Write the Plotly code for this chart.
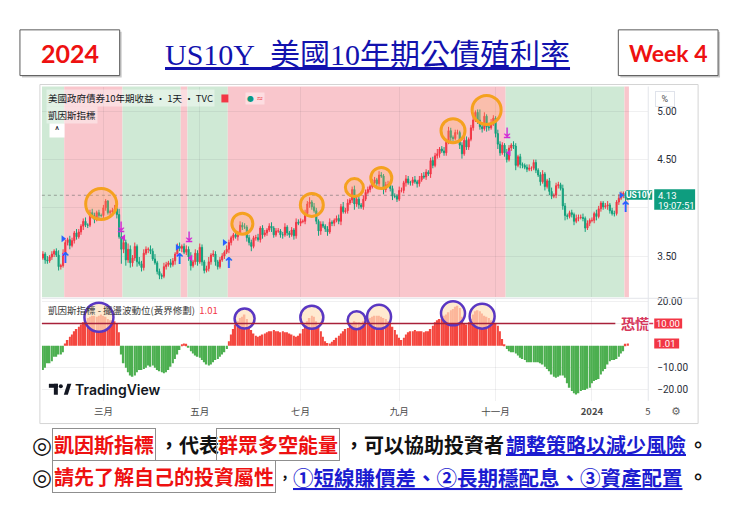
import pandas as pd
import plotly.graph_objects as go

W, H = 740, 523

# ---------------------------------------------------------------- data
# US 10-year Treasury yield (%), daily closes, one value per weekday
# from 23 Jan 2023 to 23 Jan 2024 (rows hold five weeks each)
closes = [
    3.52, 3.46, 3.45, 3.49, 3.52, 3.55, 3.51, 3.39, 3.40, 3.53, 3.64, 3.67, 3.61, 3.66, 3.74, 3.70, 3.75, 3.81, 3.86, 3.82, 3.82, 3.95, 3.92, 3.88, 3.95,
    3.92, 3.92, 4.00, 4.07, 3.95, 3.96, 3.97, 3.99, 3.93, 3.70, 3.57, 3.64, 3.46, 3.57, 3.43, 3.48, 3.60, 3.44, 3.42, 3.38, 3.53, 3.57, 3.57, 3.55, 3.47,
    3.43, 3.34, 3.30, 3.29, 3.39, 3.41, 3.43, 3.41, 3.45, 3.52, 3.60, 3.58, 3.60, 3.54, 3.57, 3.49, 3.40, 3.44, 3.53, 3.44, 3.59, 3.44, 3.35, 3.37, 3.44,
    3.51, 3.52, 3.44, 3.39, 3.46, 3.50, 3.54, 3.57, 3.64, 3.69, 3.72, 3.70, 3.74, 3.82, 3.80, 3.80, 3.69, 3.64, 3.60, 3.69, 3.69, 3.67, 3.79, 3.72, 3.74,
    3.77, 3.81, 3.79, 3.72, 3.76, 3.76, 3.72, 3.72, 3.80, 3.74, 3.72, 3.77, 3.71, 3.85, 3.84, 3.86, 3.86, 3.94, 4.04, 4.06, 4.01, 3.97, 3.86, 3.76, 3.83,
    3.81, 3.78, 3.75, 3.85, 3.84, 3.87, 3.89, 3.86, 4.01, 3.96, 3.97, 4.05, 4.08, 4.19, 4.04, 4.09, 4.03, 4.01, 4.09, 4.16, 4.19, 4.22, 4.26, 4.29, 4.25,
    4.34, 4.33, 4.19, 4.24, 4.24, 4.20, 4.12, 4.12, 4.09, 4.18, 4.18, 4.26, 4.30, 4.26, 4.26, 4.29, 4.27, 4.25, 4.29, 4.33, 4.32, 4.37, 4.35, 4.49, 4.44,
    4.54, 4.56, 4.61, 4.59, 4.57, 4.68, 4.80, 4.73, 4.72, 4.78, 4.78, 4.65, 4.56, 4.70, 4.63, 4.71, 4.83, 4.91, 4.99, 4.91, 4.84, 4.82, 4.95, 4.84, 4.83,
    4.88, 4.93, 4.77, 4.66, 4.57, 4.65, 4.57, 4.50, 4.62, 4.65, 4.64, 4.44, 4.53, 4.45, 4.44, 4.42, 4.40, 4.41, 4.41, 4.47, 4.39, 4.34, 4.27, 4.35, 4.22,
    4.28, 4.17, 4.12, 4.13, 4.23, 4.24, 4.20, 4.02, 3.92, 3.91, 3.95, 3.93, 3.86, 3.89, 3.90, 3.90, 3.89, 3.79, 3.84, 3.87, 3.87, 3.94, 3.91, 3.99, 4.05,
    4.01, 4.02, 4.03, 3.97, 3.94, 3.94, 4.06, 4.10, 4.14, 4.15, 4.10, 4.13,
]
prev_close = 3.48  # close of the session before the first bar

# intraday extension above / below the candle body, in basis points
wick_up_bp = [
    3, 2, 4, 2, 3, 2, 3, 5, 2, 4, 3, 2, 4, 3, 2, 4, 3, 2, 3, 4, 2, 3, 4, 3, 2,
    3, 2, 3, 2, 1, 2, 3, 4, 2, 6, 5, 4, 3, 6, 4, 3, 4, 2, 5, 3, 4, 3, 2, 4, 3,
    5, 2, 3, 2, 4, 3, 2, 4, 3, 2, 3, 4, 2, 3, 4, 3, 5, 2, 4, 3, 4, 3, 2, 3, 5,
    2, 4, 3, 2, 3, 3, 2, 4, 3, 2, 2, 3, 2, 4, 3, 4, 2, 3, 3, 2, 3, 4, 2, 3, 3,
    2, 3, 4, 2, 3, 3, 2, 3, 4, 2, 2, 3, 2, 4, 3, 3, 2, 4, 3, 5, 2, 4, 3, 2, 3,
    3, 2, 3, 4, 2, 2, 3, 4, 3, 5, 3, 4, 2, 3, 4, 4, 3, 2, 4, 3, 3, 2, 4, 3, 2,
    4, 3, 2, 3, 4, 2, 3, 3, 2, 4, 3, 2, 4, 3, 2, 3, 4, 2, 4, 3, 4, 3, 2, 3, 4,
    3, 5, 2, 3, 4, 2, 4, 3, 2, 3, 3, 2, 3, 5, 4, 2, 3, 4, 2, 3, 11, 3, 4, 2, 3,
    4, 3, 2, 4, 3, 3, 2, 4, 3, 2, 4, 3, 2, 3, 2, 2, 3, 4, 2, 3, 3, 2, 3, 4, 2,
    2, 3, 4, 2, 3, 3, 2, 4, 3, 2, 2, 3, 2, 4, 3, 3, 4, 2, 3, 2, 3, 2, 4, 3, 2,
    2, 3, 4, 2, 3, 3, 2, 4, 3, 2, 2, 3,
]
wick_dn_bp = [
    2, 4, 3, 2, 3, 3, 2, 4, 3, 2, 2, 3, 4, 2, 3, 3, 2, 3, 4, 2, 3, 2, 3, 4, 2,
    3, 2, 4, 3, 2, 3, 2, 3, 4, 2, 15, 4, 6, 3, 5, 4, 3, 5, 2, 4, 3, 2, 4, 3, 2,
    2, 3, 4, 3, 2, 3, 2, 3, 2, 4, 2, 3, 4, 2, 3, 4, 5, 2, 3, 4, 2, 4, 3, 2, 3,
    3, 2, 4, 3, 2, 2, 3, 2, 4, 3, 3, 2, 4, 2, 3, 2, 4, 3, 5, 2, 3, 2, 3, 4, 2,
    3, 2, 4, 3, 2, 2, 3, 4, 2, 3, 3, 2, 4, 3, 2, 3, 2, 3, 2, 4, 3, 2, 3, 5, 4,
    2, 3, 4, 2, 3, 3, 2, 3, 4, 2, 2, 3, 2, 3, 6, 3, 4, 2, 3, 2, 2, 3, 2, 4, 3,
    3, 2, 5, 3, 2, 3, 4, 2, 3, 2, 2, 3, 4, 2, 3, 3, 2, 4, 3, 2, 2, 3, 2, 4, 3,
    2, 3, 4, 2, 3, 3, 2, 4, 3, 2, 2, 4, 5, 2, 3, 3, 2, 3, 2, 4, 3, 4, 2, 5, 3,
    2, 3, 4, 5, 3, 2, 4, 3, 2, 3, 3, 5, 2, 4, 3, 2, 3, 2, 3, 2, 3, 2, 4, 2, 4,
    2, 4, 3, 2, 3, 3, 2, 4, 5, 3, 2, 3, 4, 2, 3, 2, 3, 4, 2, 3, 2, 3, 4, 2, 3,
    3, 2, 4, 3, 2, 3, 2, 3, 2, 4, 3, 2,
]

# Keynes oscillator (swing energy), one value per bar
osc = [
    -11, -10, -8, -8, -7, -5, -5, -4, -4, -3, 1, 2.5, 4, 5, 6.5, 7.5, 8.5, 9.5, 10.5, 11.5, 12.5, 13, 13.5, 13.5, 13,
    13.5, 14, 13.5, 13, 12, 11.5, 11.5, 11, 10, 6, -4, -8, -10, -12, -13.5, -14, -13.5, -12, -11, -11, -10.5, -10, -9, -9.5, -9,
    -10, -11, -11.5, -12, -12.5, -12, -11, -9.5, -8, -6, -4, -2, 0.5, 1, 0.8, -1, -2.5, -3.5, -4.5, -5, -5.5, -6.5, -7.5, -8.5, -9,
    -8.5, -7.5, -6.5, -6, -5, -4, -3, -1.5, 2, 5, 7.5, 9.5, 11, 12.5, 13, 14, 12, 9, 7, 5.5, 4.5, 4, 4.5, 5, 5.5,
    6, 6.5, 6.5, 7, 6.5, 6.5, 6, 6.5, 6, 6, 5.5, 5, 4.5, 4, 4.5, 5.5, 7.5, 9.5, 11, 12.5, 13.5, 13, 11, 9, 6.5,
    4, 2, 1.2, 1, 1.8, 2.5, 3.5, 4.5, 5.5, 6.5, 7.5, 8, 9, 10, 11, 10.5, 10.5, 10, 11, 11.5, 12, 12.5, 13, 13.5, 13.5,
    13.5, 13, 12.5, 12, 11, 10, 8.5, 7, 5, 3.5, 2.5, 3.5, 5, 6, 6.5, 6.5, 7, 6.5, 6.5, 6.5, 6, 6.5, 6.5, 7.5, 9,
    10.5, 11.5, 12, 13, 13.5, 14, 15, 16, 16.5, 17.5, 18, 17, 13, 10, 9.5, 10.5, 12, 14, 15.5, 16, 15.5, 14.5, 13.5, 13, 12.5,
    11.5, 11, 10, 9, 6.5, 3, 0.5, -1.5, -2.5, -3, -3, -3.5, -4.5, -5.5, -6, -6.5, -7.5, -7.5, -7.5, -7.5, -7.5, -7.5, -8, -8.5, -9.5,
    -10.5, -11.5, -13, -14, -14.5, -14, -13.5, -13.5, -14.5, -17, -19, -20.5, -21.5, -22, -21.5, -20.5, -20, -20, -19.5, -19, -17, -16, -15.5, -15, -13,
    -11.5, -10.5, -8.5, -7, -6.5, -6.5, -6, -5, -3.5, -2.5, 0.8, 1.01,
]
assert len(closes) == len(wick_up_bp) == len(wick_dn_bp) == len(osc) == 262

last_price = 4.13
panic_level = 10
osc_last = 1.01

# background regime (bull = pink, bear = green) and the day it starts
regime_starts = ["2023-01-23", "2023-02-06", "2023-03-14", "2023-04-19",
                 "2023-04-24", "2023-05-18", "2023-11-08", "2024-01-22"]
regime_bull = [False, True, False, True, False, True, False, True]

# indicator signals
buy_flag_dates = ["2023-02-03", "2023-04-17", "2023-05-16", "2024-01-18"]
buy_flag_prices = [3.68, 3.59, 3.64, 4.13]
buy_arrow_dates = ["2023-02-06", "2023-04-18", "2023-05-18", "2024-01-22"]
buy_arrow_prices = [3.47, 3.46, 3.42, 4.00]
sell_bar_dates = ["2023-03-13", "2023-04-24", "2023-11-08"]
sell_bar_prices = [3.80, 3.69, 4.77]
sell_flag_dates = ["2023-03-14", "2023-04-25", "2023-11-09"]
sell_flag_prices = [3.69, 3.48, 4.57]

# highlighted swing highs
peak_dates = ["2023-02-28", "2023-05-26", "2023-07-10", "2023-08-04",
              "2023-08-22", "2023-10-05", "2023-10-26"]
peak_prices = [4.04, 3.835, 4.03, 4.21, 4.31, 4.80, 5.015]
peak_r = [15.5, 10.5, 11.5, 9, 10.5, 12, 14.5]
osc_peak_dates = ["2023-02-27", "2023-05-29", "2023-07-10", "2023-08-07",
                  "2023-08-21", "2023-10-05", "2023-10-24"]
osc_peak_values = [12.8, 12.2, 12.8, 11.5, 13.0, 14.6, 13.3]
osc_peak_r = [14.5, 10, 11.5, 9, 12, 12, 12.5]

tick_dates = ["2023-03-01", "2023-05-01", "2023-07-03", "2023-09-01",
              "2023-11-01", "2024-01-01", "2024-02-05"]
tick_text = ["三月", "五月", "七月", "九月", "十一月", "<b>2024</b>", "5"]

price_ticks = [3.5, 4.0, 4.5, 5.0]
price_tick_text = ["3.50", "", "4.50", "5.00"]
osc_ticks = [20, 10, -10, -20]
osc_tick_text = ["20.00", "", "\u221210.00", "\u221220.00"]

# ---------------------------------------------------------------- helpers
def px(x):
    return x / W


def py(y):
    return 1 - y / H


dates = pd.bdate_range("2023-01-23", periods=len(closes))
opens = [prev_close] + closes[:-1]
highs = [max(o, c) + u / 100 for o, c, u in zip(opens, closes, wick_up_bp)]
lows = [min(o, c) - d / 100 for o, c, d in zip(opens, closes, wick_dn_bp)]

UP, DN = "#f23645", "#14a07c"
POS, NEG = "#f4473f", "#4caf50"
PINK, MINT = "#f9c6cc", "#cfe9d5"
GRID = "rgba(42,46,57,0.07)"
CJK = "Noto Sans CJK TC"
UI = "Roboto, Noto Sans CJK TC, sans-serif"

x_start = pd.Timestamp("2023-01-20 13:00")
x_end = pd.Timestamp("2024-02-05 03:00")
X_DOM = [px(42), px(650)]

fig = go.Figure()

fig.add_trace(go.Candlestick(
    x=dates, open=opens, high=highs, low=lows, close=closes,
    increasing=dict(line=dict(color=UP, width=1), fillcolor=UP),
    decreasing=dict(line=dict(color=DN, width=1), fillcolor=DN),
    whiskerwidth=0, hoverinfo="skip", showlegend=False,
    xaxis="x", yaxis="y"))

fig.add_trace(go.Bar(
    x=dates, y=osc, marker=dict(color=[POS if v >= 0 else NEG for v in osc], line=dict(width=0)),
    hoverinfo="skip", showlegend=False, xaxis="x2", yaxis="y2"))

# signal marks
fig.add_trace(go.Scatter(x=buy_flag_dates, y=buy_flag_prices, mode="markers",
                         marker=dict(symbol="triangle-right", size=6, color="#2962ff"),
                         hoverinfo="skip", showlegend=False))
fig.add_trace(go.Scatter(x=buy_arrow_dates, y=buy_arrow_prices, mode="text", text=["↑"] * len(buy_arrow_dates),
                         textfont=dict(size=15, color="#2962ff", family="DejaVu Sans", weight=700),
                         hoverinfo="skip", showlegend=False))
fig.add_trace(go.Scatter(x=sell_bar_dates, y=sell_bar_prices, mode="text", text=["⤓"] * len(sell_bar_dates),
                         textfont=dict(size=14, color="#d42ad4", family="DejaVu Sans", weight=700),
                         hoverinfo="skip", showlegend=False))
fig.add_trace(go.Scatter(x=sell_flag_dates, y=sell_flag_prices, mode="markers",
                         marker=dict(symbol="triangle-left", size=6, color="#d42ad4"),
                         hoverinfo="skip", showlegend=False))

shapes = []
annotations = []

# regime background bands
bounds = []
for i, d in enumerate(regime_starts):
    pos = dates.get_loc(pd.Timestamp(d))
    bounds.append(x_start if pos == 0 else dates[pos - 1] + pd.Timedelta(hours=12))
bounds.append(dates[-1] + pd.Timedelta(hours=12))
for i, bull in enumerate(regime_bull):
    shapes.append(dict(type="rect", xref="x", yref="y domain", x0=bounds[i], x1=bounds[i + 1],
                       y0=0, y1=1, fillcolor=PINK if bull else MINT, line=dict(width=0), layer="below"))

# last price line
shapes.append(dict(type="line", xref="paper", yref="y", x0=px(42), x1=px(650), y0=last_price, y1=last_price,
                   line=dict(color="rgba(100,100,100,0.55)", width=1, dash="dot")))

# highlighted highs
for d, p, r in zip(peak_dates, peak_prices, peak_r):
    shapes.append(dict(type="circle", xref="x", yref="y", xsizemode="pixel", ysizemode="pixel",
                       xanchor=d, yanchor=p, x0=-r, x1=r, y0=-r, y1=r,
                       line=dict(color="#f5a11f", width=3), fillcolor="rgba(255,170,90,0.28)"))
for d, v, r in zip(osc_peak_dates, osc_peak_values, osc_peak_r):
    shapes.append(dict(type="circle", xref="x2", yref="y2", xsizemode="pixel", ysizemode="pixel",
                       xanchor=d, yanchor=v, x0=-r, x1=r, y0=-r, y1=r,
                       line=dict(color="#5a37c2", width=2.5), fillcolor="rgba(255,226,190,0.72)"))

# panic threshold
shapes.append(dict(type="line", xref="paper", yref="y2", x0=px(42), x1=px(617), y0=panic_level, y1=panic_level,
                   line=dict(color="#a8213a", width=1.6)))
shapes.append(dict(type="line", xref="paper", yref="y2", x0=px(651), x1=px(655), y0=panic_level, y1=panic_level,
                   line=dict(color="#d6365a", width=1.5)))
annotations.append(dict(xref="paper", yref="y2", x=px(621), y=panic_level, xanchor="left", yanchor="middle",
                        text="<b>恐慌</b>", showarrow=False, font=dict(family=CJK, size=14, color="#d6365a")))

# price-scale labels
shapes.append(dict(type="rect", xref="paper", yref="y", ysizemode="pixel", yanchor=last_price,
                   x0=px(628), x1=px(654), y0=-4.5, y1=5, fillcolor="#0e9d7f", line=dict(width=0)))
shapes.append(dict(type="rect", xref="paper", yref="y", ysizemode="pixel", yanchor=last_price,
                   x0=px(656), x1=px(697), y0=-14.5, y1=6, fillcolor="#0e9d7f", line=dict(width=0)))
annotations.append(dict(xref="paper", yref="y", x=px(641), y=last_price, xanchor="center", yanchor="middle",
                        text="<b>US10Y</b>", showarrow=False, font=dict(family=UI, size=8.5, color="white")))
annotations.append(dict(xref="paper", yref="y", x=px(658), y=last_price, xanchor="left", yanchor="middle",
                        text=f"{last_price:.2f}", showarrow=False, font=dict(family=UI, size=9.5, color="white")))
annotations.append(dict(xref="paper", yref="y", x=px(658), y=last_price, yshift=-10, xanchor="left", yanchor="middle",
                        text="19:07:51", showarrow=False, font=dict(family=UI, size=9.5, color="white")))
for val, txt, w in [(panic_level, f"{panic_level:.2f}", 28), (osc_last, f"{osc_last:.2f}", 25)]:
    shapes.append(dict(type="rect", xref="paper", yref="y2", ysizemode="pixel", yanchor=val,
                       x0=px(656), x1=px(656 + w), y0=-5, y1=5, fillcolor="#f23645", line=dict(width=0)))
    annotations.append(dict(xref="paper", yref="y2", x=px(656 + w / 2), y=val, xanchor="center", yanchor="middle",
                            text=txt, showarrow=False, font=dict(family=UI, size=9.5, color="white")))
annotations.append(dict(xref="paper", yref="paper", x=px(666.5), y=py(97), xanchor="center", yanchor="middle",
                        text="%", showarrow=False, bgcolor="white", bordercolor="#e0e3eb", borderwidth=1,
                        borderpad=2, width=14, font=dict(family=UI, size=9, color="#555")))

# chart frame and panel separators
shapes.append(dict(type="rect", xref="paper", yref="paper", x0=px(40), x1=px(700), y0=py(423), y1=py(82),
                   line=dict(color="#d4d4d4", width=1)))
shapes.append(dict(type="line", xref="paper", yref="paper", x0=px(650), x1=px(650), y0=py(400), y1=py(84),
                   line=dict(color="#e3e5ea", width=1)))
shapes.append(dict(type="line", xref="paper", yref="paper", x0=px(42), x1=px(700), y0=py(297), y1=py(297),
                   line=dict(color="#e3e5ea", width=1)))

# pane legends
annotations.append(dict(xref="paper", yref="paper", x=px(46), y=py(96), xanchor="left", yanchor="middle",
                        text="美國政府債券10年期收益 · 1天 · TVC", showarrow=False,
                        bgcolor="rgba(255,255,255,0.4)", font=dict(family=CJK, size=9.5, color="#131722")))
shapes.append(dict(type="rect", xref="paper", yref="paper", x0=px(222), x1=px(229), y0=py(100), y1=py(92),
                   fillcolor="#f23645", line=dict(width=0)))
annotations.append(dict(xref="paper", yref="paper", x=px(256), y=py(96), xanchor="center", yanchor="middle",
                        text='<span style="color:#089981">●</span> <span style="color:#f23645">≈</span>',
                        showarrow=False, bgcolor="rgba(253,222,226,0.95)", borderpad=1,
                        font=dict(family="DejaVu Sans", size=8)))
annotations.append(dict(xref="paper", yref="paper", x=px(46), y=py(113), xanchor="left", yanchor="middle",
                        text="凱因斯指標", showarrow=False, bgcolor="rgba(255,255,255,0.4)",
                        font=dict(family=CJK, size=9.5, color="#131722")))
annotations.append(dict(xref="paper", yref="paper", x=px(57), y=py(128), xanchor="center", yanchor="middle",
                        text="^", showarrow=False, bgcolor="white", width=12, borderpad=1,
                        font=dict(family=UI, size=10, color="#131722")))
annotations.append(dict(xref="paper", yref="paper", x=px(46), y=py(309), xanchor="left", yanchor="middle",
                        text=f'凱因斯指標 - 擺盪波動位(黃界修劃)&nbsp;&nbsp;<span style="color:#f23645">{osc_last:.2f}</span>',
                        showarrow=False, font=dict(family=CJK, size=9.5, color="#3a3a3a")))

# TradingView mark
shapes.append(dict(type="rect", xref="paper", yref="paper", x0=px(49), x1=px(58), y0=py(387), y1=py(383),
                   fillcolor="#131722", line=dict(width=0)))
shapes.append(dict(type="rect", xref="paper", yref="paper", x0=px(54), x1=px(58), y0=py(394), y1=py(383),
                   fillcolor="#131722", line=dict(width=0)))
shapes.append(dict(type="circle", xref="paper", yref="paper", x0=px(59), x1=px(63), y0=py(387.5), y1=py(383.5),
                   fillcolor="#131722", line=dict(width=0)))
shapes.append(dict(type="path", xref="paper", yref="paper",
                   path=f"M {px(64)} {py(394)} L {px(67.5)} {py(383)} L {px(71.5)} {py(383)} L {px(68)} {py(394)} Z",
                   fillcolor="#131722", line=dict(width=0)))
annotations.append(dict(xref="paper", yref="paper", x=px(73), y=py(389), xanchor="left", yanchor="middle",
                        text="TradingView", showarrow=False, font=dict(family="Inter", size=14, weight=600, color="#131722")))
annotations.append(dict(xref="paper", yref="paper", x=px(678), y=py(411), xanchor="center", yanchor="middle",
                        text="⚙", showarrow=False, font=dict(family="DejaVu Sans", size=11, color="#666")))

# slide header
for x0, label in [(20, "2024"), (620, "Week 4")]:
    shapes.append(dict(type="rect", xref="paper", yref="paper", x0=px(x0 + 2), x1=px(x0 + 102), y0=py(75), y1=py(29),
                       fillcolor="#c9c9c9", line=dict(width=0)))
    shapes.append(dict(type="rect", xref="paper", yref="paper", x0=px(x0), x1=px(x0 + 100), y0=py(73), y1=py(27),
                       fillcolor="white", line=dict(color="#5a5a5a", width=1)))
    annotations.append(dict(xref="paper", yref="paper", x=px(x0 + 50), y=py(50), xanchor="center", yanchor="middle",
                            text=label, showarrow=False,
                            font=dict(family="Lato", size=25 if label == "2024" else 23, weight=700, color="#ee1111")))
annotations.append(dict(xref="paper", yref="paper", x=px(368), y=py(52), xanchor="center", yanchor="middle",
                        text="US10Y&nbsp;&nbsp;美國10年期公債殖利率", showarrow=False,
                        font=dict(family="Liberation Serif, Noto Sans CJK TC", size=30, color="#1212ae",
                                  lineposition="under")))

# notes below the chart
RED, BLUE, BLACK = "#ee1111", "#1c1cd0", "#111111"
notes = [
    (444.5, [("◎", 30, "mark", 23), ("凱因斯指標", 52, "box", 20), ("，代表", 157, "plain", 20),
             ("群眾多空能量", 217, "box", 20), ("，可以協助投資者", 343, "plain", 20),
             ("調整策略以減少風險", 505, "link", 20), ("。", 688, "plain", 20)]),
    (476.5, [("◎", 30, "mark", 23), ("請先了解自己的投資屬性", 52, "box", 20), ("，", 277, "plain", 14),
             ("①短線賺價差、②長期穩配息、③資產配置", 292, "link", 20.5), ("。", 688, "plain", 20)]),
]
for yc, parts in notes:
    for text, x0, kind, size in parts:
        font = dict(family="DejaVu Sans" if kind == "mark" else CJK, size=size, weight=700,
                    color={"plain": BLACK, "mark": BLACK, "box": RED, "link": BLUE}[kind])
        ann = dict(xref="paper", yref="paper", x=px(x0), y=py(yc), xanchor="left", yanchor="middle",
                   text=text, showarrow=False, font=font)
        if kind == "box":
            ann.update(bordercolor="#8f8f8f", borderwidth=1, borderpad=1)
        if kind == "link":
            font["lineposition"] = "under"
        annotations.append(ann)

axis_common = dict(rangebreaks=[dict(bounds=["sat", "mon"])], range=[x_start, x_end], domain=X_DOM,
                   tickvals=tick_dates, showgrid=True, gridcolor=GRID, gridwidth=1,
                   zeroline=False, showline=False, ticks="")

fig.update_layout(
    width=W, height=H, margin=dict(l=0, r=0, t=0, b=0),
    paper_bgcolor="white", plot_bgcolor="white", showlegend=False, bargap=0.3,
    font=dict(family=UI, color="#131722"),
    xaxis=dict(**axis_common, anchor="y", showticklabels=False, rangeslider=dict(visible=False)),
    xaxis2=dict(**axis_common, anchor="y2", ticktext=tick_text, ticklabelstandoff=4,
                tickfont=dict(family=CJK, size=9.5, color="#4a4a4a")),
    yaxis=dict(domain=[py(296), py(84)], range=[3.0722, 5.2577], side="right", anchor="x",
               tickvals=price_ticks, ticktext=price_tick_text, showgrid=True, gridcolor=GRID,
               zeroline=False, ticks="", ticklabelstandoff=8, tickfont=dict(size=10, color="#2a2e39")),
    yaxis2=dict(domain=[py(400), py(298)], range=[-24.84, 20.9], side="right", anchor="x2",
                tickvals=osc_ticks, ticktext=osc_tick_text, showgrid=True, gridcolor=GRID,
                zeroline=False, ticks="", ticklabelstandoff=8, tickfont=dict(size=10, color="#2a2e39")),
    shapes=shapes, annotations=annotations,
)

fig.write_html("out.html")
